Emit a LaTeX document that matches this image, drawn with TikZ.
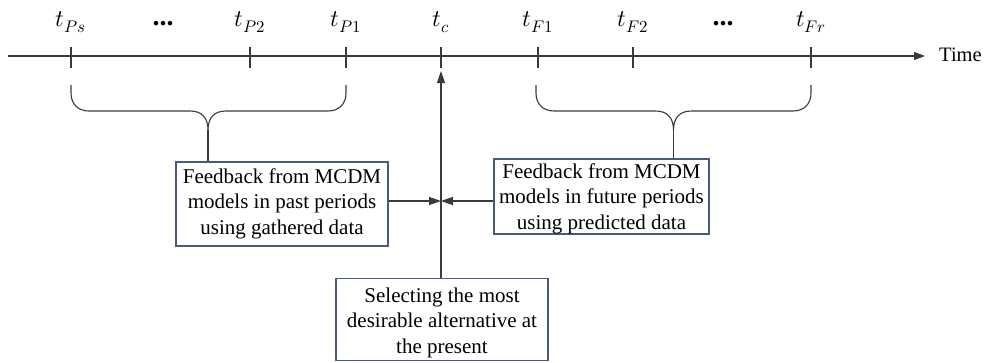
\documentclass[tikz,border=0pt]{standalone}
\usepackage{fontspec}
\usepackage{unicode-math}
\setmainfont{Liberation Serif}
\setmathfont{Latin Modern Math}
\usetikzlibrary{arrows.meta}
\definecolor{linegray}{HTML}{3A3A3A}
\definecolor{boxedge}{HTML}{4A5A7A}
% three centred lines, lowered by #1 and taking no height of their own
\newcommand{\boxlines}[2]{\raisebox{#1}[0pt][0pt]{\begin{tabular}{@{}c@{}}#2\end{tabular}}}
\begin{document}
\begin{tikzpicture}[x=1pt,y=-1pt,
  line/.style={draw=linegray, line width=1.2pt},
  ticklabel/.style={anchor=base, font=\fontsize{24}{28}\selectfont, inner sep=0pt},
  infobox/.style={draw=boxedge, line width=1.1pt, fill=white, align=center,
    font=\fontsize{21}{25.5}\selectfont, inner sep=0pt},
  tip/.style={-{Triangle[length=12pt,width=8pt]}}
]
\useasboundingbox (0,0) rectangle (995,362);

% time axis
\coordinate (axisstart) at (8,56);
\coordinate (axisend) at (925,56);
\draw[line, -{Triangle[length=11pt,width=8pt]}] (axisstart) -- (axisend);
\node[anchor=base west, inner sep=0pt, font=\fontsize{20.5}{24}\selectfont] (timelabel) at (939,61) {Time};

% ticks and their labels
\foreach \name/\xx/\lab in {ps/71/{t_{Ps}}, p2/250/{t_{P2}}, p1/346/{t_{P1}}, tc/441/{t_c},
                            f1/538/{t_{F1}}, f2/633/{t_{F2}}, fr/811/{t_{Fr}}} {
  \coordinate (\name) at (\xx,56);
  \draw[line] (\xx,47) -- (\xx,68);
  \node[ticklabel] (lab-\name) at (\xx,26.5) {$\lab$};
}
\node[ticklabel, font=\fontsize{28}{30}\selectfont] (dotsp) at (163,25.5) {\textbf{...}};
\node[ticklabel, font=\fontsize{28}{30}\selectfont] (dotsf) at (723,25.5) {\textbf{...}};

% boxes
\node[infobox, minimum width=212pt, minimum height=84pt] (pastbox) at (282,204)
  {\boxlines{-5pt}{Feedback from MCDM\\models in past periods\\using gathered data}};
\node[infobox, minimum width=215pt, minimum height=75pt] (futurebox) at (601.5,196.5)
  {\boxlines{-7.5pt}{Feedback from MCDM\\models in future periods\\using predicted data}};
\node[infobox, minimum width=212pt, minimum height=82pt] (nowbox) at (442,319.5)
  {\boxlines{-8.5pt}{Selecting the most\\desirable alternative at\\the present}};

% braces over past and future ticks
\coordinate (pastcusp) at (208,130);
\coordinate (futurecusp) at (673.5,130);
\draw[line, line width=1.1pt] (71,85) -- (71,93) .. controls (71,104) and (78,111) .. (89,111)
  -- (190,111) .. controls (202,111) and (208,118) .. (pastcusp)
  .. controls (208,118) and (214,111) .. (226,111)
  -- (328,111) .. controls (339,111) and (346,104) .. (346,93) -- (346,85);
\draw[line, line width=1.1pt] (536,85) -- (536,93) .. controls (536,104) and (543,111) .. (554,111)
  -- (655.5,111) .. controls (667.5,111) and (673.5,118) .. (futurecusp)
  .. controls (673.5,118) and (679.5,111) .. (691.5,111)
  -- (793,111) .. controls (804,111) and (811,104) .. (811,93) -- (811,85);
\draw[line] (pastcusp) -- (pastcusp |- pastbox.north);
\draw[line] (futurecusp) -- (futurecusp |- futurebox.north);

% arrows meeting at the present
\coordinate (meet) at (441,201);
\coordinate (tcfoot) at (441,71);
\draw[line, tip] (nowbox.north -| tc) -- (tcfoot);
\draw[line, tip] (meet -| pastbox.east) -- (meet);
\draw[line, tip] (meet -| futurebox.west) -- (meet);
\end{tikzpicture}
\end{document}
